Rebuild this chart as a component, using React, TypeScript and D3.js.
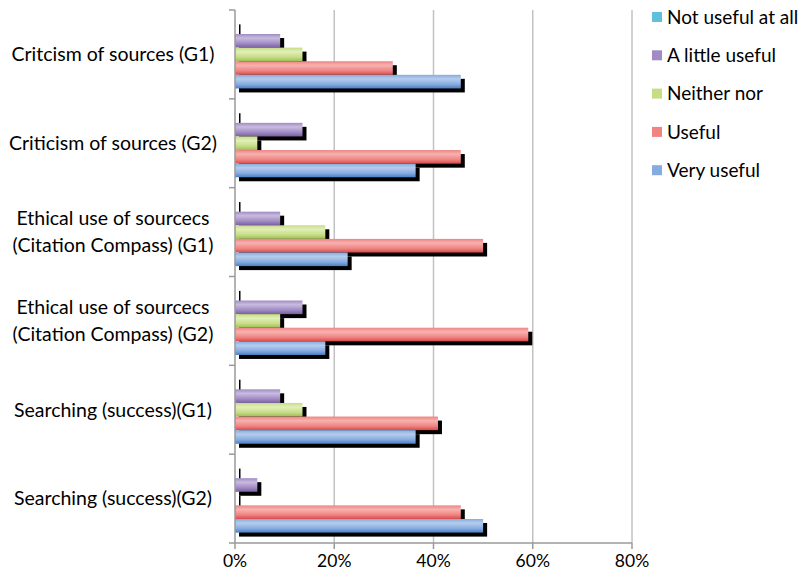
import React from "react";
import * as d3 from "d3";

const categories = [
  ["Critcism of sources (G1)"],
  ["Criticism of sources (G2)"],
  ["Ethical use of sourcecs", "(Citation Compass) (G1)"],
  ["Ethical use of sourcecs", "(Citation Compass) (G2)"],
  ["Searching (success)(G1)"],
  ["Searching (success)(G2)"],
];
const series = ["Not useful at all", "A little useful", "Neither nor", "Useful", "Very useful"];
const notUseful = [0, 0, 0, 0, 0, 0];
const littleUseful = [0.091, 0.136, 0.091, 0.136, 0.091, 0.045];
const neitherNor = [0.136, 0.045, 0.182, 0.091, 0.136, 0];
const useful = [0.318, 0.455, 0.5, 0.591, 0.409, 0.455];
const veryUseful = [0.455, 0.364, 0.227, 0.182, 0.364, 0.5];
const xTicks = [0, 0.2, 0.4, 0.6, 0.8];

const seriesValues = [notUseful, littleUseful, neitherNor, useful, veryUseful];
const colors = [
  { light: "#9ad9ea", mid: "#5fc0db", dark: "#3aa4c2" },
  { light: "#c9bbdf", mid: "#a08bc4", dark: "#7a5fa0" },
  { light: "#e2efb8", mid: "#c6dd86", dark: "#9cbf56" },
  { light: "#f6b2b0", mid: "#ef8482", dark: "#d94b49" },
  { light: "#b5cdec", mid: "#86abe0", dark: "#4a7fc4" },
];

export default function App() {
  const W = 805, H = 570;
  const x0 = 235, x1 = 632, yTop = 10, yBot = 543;
  const x = d3.scaleLinear().domain([0, 0.8]).range([x0, x1]);
  const y = d3.scaleBand<number>().domain(d3.range(categories.length)).range([yTop, yBot]).paddingInner(0.234).paddingOuter(0.117);
  const ys = d3.scaleBand<number>().domain(d3.range(series.length)).range([0, y.bandwidth()]);
  const step = y.step();
  const font = "Lato, 'Open Sans', sans-serif";

  return (
    <svg width={W} height={H} style={{ position: "absolute", left: 0, top: 0, background: "#fff" }}>
      <defs>
        {colors.map((c, i) => (
          <linearGradient key={i} id={`g${i}`} x1="0" y1="0" x2="0" y2="1">
            <stop offset="0" stopColor={c.mid} />
            <stop offset="0.3" stopColor={c.light} />
            <stop offset="0.7" stopColor={c.mid} />
            <stop offset="1" stopColor={c.dark} />
          </linearGradient>
        ))}
      </defs>
      {xTicks.slice(1).map((t) => (
        <line key={t} x1={x(t)} x2={x(t)} y1={yTop} y2={yBot} stroke="#c2c2c2" strokeWidth={1.5} />
      ))}
      {categories.map((_, ci) =>
        seriesValues.map((vals, si) => {
          const by = (y(ci) as number) + (ys(si) as number);
          const w = x(vals[ci]) - x0;
          return (
            <rect key={`s${ci}-${si}`} x={x0 + 4} y={by + 4} width={Math.max(w, 1.5)} height={ys.bandwidth()} fill="#000" />
          );
        })
      )}
      {categories.map((_, ci) =>
        seriesValues.map((vals, si) => {
          const by = (y(ci) as number) + (ys(si) as number);
          const w = x(vals[ci]) - x0;
          return w > 0 ? (
            <rect key={`b${ci}-${si}`} x={x0} y={by} width={w} height={ys.bandwidth()} fill={`url(#g${si})`} />
          ) : null;
        })
      )}
      <line x1={x0} x2={x0} y1={yTop} y2={yBot} stroke="#9a9a9a" strokeWidth={1.5} />
      <line x1={x0} x2={x1} y1={yBot} y2={yBot} stroke="#9a9a9a" strokeWidth={1.5} />
      {d3.range(categories.length + 1).map((i) => (
        <line key={i} x1={x0 - 6} x2={x0} y1={yTop + i * step} y2={yTop + i * step} stroke="#9a9a9a" strokeWidth={1.5} />
      ))}
      {xTicks.map((t) => (
        <g key={t}>
          <line x1={x(t)} x2={x(t)} y1={yBot} y2={yBot + 6} stroke="#9a9a9a" strokeWidth={1.5} />
          <text x={x(t)} y={567} textAnchor="middle" fontFamily={font} fontSize={17.5} fill="#000">
            {d3.format(".0%")(t)}
          </text>
        </g>
      ))}
      {categories.map((lines, ci) => {
        const cy = (y(ci) as number) + y.bandwidth() / 2;
        const lh = 27;
        return (
          <text key={ci} x={113} textAnchor="middle" fontFamily={font} fontSize={19.5} fill="#000">
            {lines.map((l, li) => (
              <tspan key={li} x={113} y={cy + (li - (lines.length - 1) / 2) * lh} dy="0.35em">
                {l}
              </tspan>
            ))}
          </text>
        );
      })}
      {series.map((s, si) => {
        const ly = 17 + si * 38.3;
        return (
          <g key={s}>
            <rect x={652} y={ly - 5} width={10} height={10} fill={colors[si].mid} />
            <text x={667} y={ly} dy="0.35em" fontFamily={font} fontSize={19} fill="#000">
              {s}
            </text>
          </g>
        );
      })}
    </svg>
  );
}
